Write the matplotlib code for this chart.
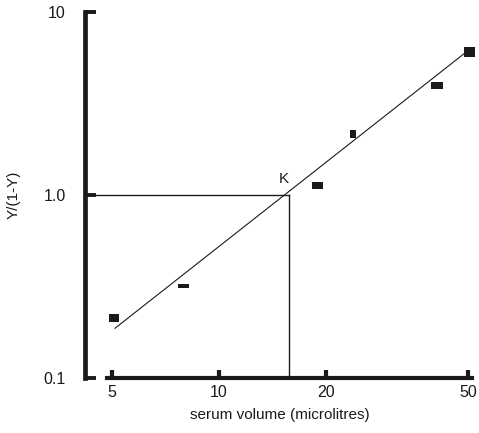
import matplotlib
matplotlib.use("Agg")
import matplotlib.pyplot as plt
from matplotlib.path import Path
from matplotlib.ticker import FixedLocator, FixedFormatter, NullLocator

plt.rcParams['font.family'] = ['Liberation Sans', 'DejaVu Sans']

# measured points
serum_ul = [5.07, 7.9, 18.8, 23.7, 40.9, 50.3]
ratio = [0.213, 0.318, 1.13, 2.16, 3.97, 6.04]
# marker box (w, h) per point, as printed
box_wh = [(10, 9), (11, 4), (11, 7), (6, 8), (12, 7), (11, 10)]

# fitted line ends
fit_x = [5.1, 50.8]
fit_y = [0.187, 6.3]
k_x = 15.7
k_y = 1.0

x_ticks = [5, 10, 20, 50]
x_labels = ["5", "10", "20", "50"]
y_ticks = [0.1, 1.0, 10]
y_labels = ["0.1", "1.0", "10"]

W, H = 479, 433
fig = plt.figure(figsize=(W / 100, H / 100), dpi=100)
ax = fig.add_axes([85 / W, (H - 378) / H, 389 / W, 366 / H])
ax.set_xscale('log')
ax.set_yscale('log')
ax.set_xlim(4.2, 52)
ax.set_ylim(0.1, 10)

ink = '#1a1a1a'

ax.plot(fit_x, fit_y, color=ink, lw=0.8, zorder=2)
ax.plot([4.2, k_x], [k_y, k_y], color=ink, lw=1.0, zorder=2)
ax.plot([k_x, k_x], [k_y, 0.1], color=ink, lw=1.0, zorder=2)
ax.text(k_x * 1.0, 1.12, "K", ha='right', va='bottom', fontsize=11, color=ink)

for x, y, (w, h) in zip(serum_ul, ratio, box_wh):
    verts = [(-w / 2, -h / 2), (w / 2, -h / 2), (w / 2, h / 2), (-w / 2, h / 2), (-w / 2, -h / 2)]
    ax.plot([x], [y], marker=Path(verts, closed=True), ms=max(w, h) * 0.72,
            color=ink, mec=ink, mew=0, ls='none', zorder=3)

for s in ['top', 'right']:
    ax.spines[s].set_visible(False)
ax.spines['left'].set_linewidth(3.4)
ax.spines['bottom'].set_linewidth(3.0)
ax.spines['left'].set_color(ink)
ax.spines['bottom'].set_color(ink)
ax.spines['bottom'].set_bounds(4.85, 51.2)
ax.spines['left'].set_capstyle('projecting')

ax.xaxis.set_major_locator(FixedLocator(x_ticks))
ax.xaxis.set_major_formatter(FixedFormatter(x_labels))
ax.xaxis.set_minor_locator(NullLocator())
ax.yaxis.set_major_locator(FixedLocator(y_ticks))
ax.yaxis.set_major_formatter(FixedFormatter(y_labels))
ax.yaxis.set_minor_locator(NullLocator())

ax.tick_params(axis='x', direction='in', length=6, width=3.0, pad=5,
               labelsize=11.5, color=ink, labelcolor=ink)
ax.tick_params(axis='y', direction='in', length=8, width=2.8, pad=14,
               labelsize=11.5, color=ink, labelcolor=ink)

ax.set_xlabel("serum volume (microlitres)", fontsize=11, color=ink, labelpad=6)
ax.set_ylabel("Y/(1-Y)", fontsize=11, color=ink, labelpad=16)

fig.savefig("out.png", dpi=100)
